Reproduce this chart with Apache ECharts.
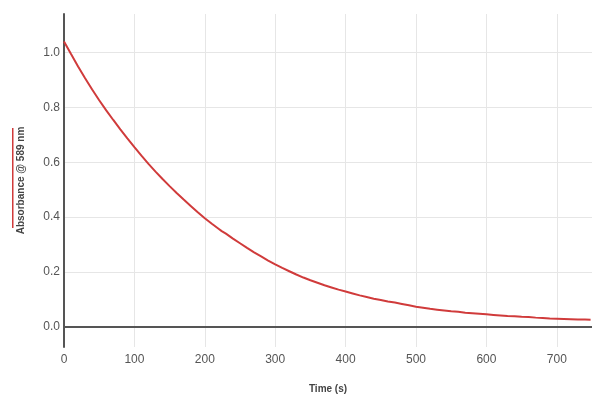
<!DOCTYPE html>
<html>
<head>
<meta charset="utf-8">
<script src="https://cdn.jsdelivr.net/npm/echarts@6/dist/echarts.min.js"></script>
<style>
  html, body { margin: 0; padding: 0; background: #fff; }
  #chart { width: 600px; height: 400px; }
</style>
</head>
<body>
<div id="chart"></div>
<script>
  // time (s) and absorbance
  var times = [
    0, 10, 20, 30, 40, 50, 60, 70, 80, 90,
    100, 110, 120, 130, 140, 150, 160, 170, 180, 190,
    200, 210, 220, 224, 226, 230, 240, 250, 260, 270, 280, 290,
    300, 310, 320, 330, 340, 350, 360, 370, 380, 390,
    400, 410, 420, 430, 440, 450, 460, 465, 467, 470, 480, 490,
    500, 510, 520, 530, 540, 550, 560, 570, 580, 590,
    600, 610, 620, 630, 640, 650, 660, 670, 680, 690,
    700, 710, 720, 730, 740, 748
  ];
  var absorbance = [
    1.040, 0.994, 0.949, 0.906, 0.865, 0.826, 0.789, 0.754, 0.720, 0.687,
    0.655, 0.624, 0.594, 0.566, 0.539, 0.513, 0.488, 0.464, 0.441, 0.418,
    0.396, 0.376, 0.357, 0.349, 0.351, 0.340, 0.322, 0.305, 0.288, 0.272, 0.257, 0.242,
    0.228, 0.215, 0.203, 0.191, 0.180, 0.170, 0.161, 0.152, 0.144, 0.136,
    0.129, 0.122, 0.115, 0.109, 0.103, 0.098, 0.093, 0.091, 0.096, 0.089, 0.084, 0.079,
    0.074, 0.070, 0.066, 0.063, 0.060, 0.057, 0.055, 0.052, 0.050, 0.048,
    0.046, 0.044, 0.042, 0.040, 0.039, 0.037, 0.036, 0.034, 0.033, 0.031,
    0.030, 0.029, 0.028, 0.027, 0.027, 0.026
  ];
  var xTicks = [0, 100, 200, 300, 400, 500, 600, 700];

  var points = times.map(function (t, i) { return [t, absorbance[i]]; });

  var chart = echarts.init(document.getElementById('chart'));

  chart.setOption({
    animation: false,
    grid: { left: 64, right: 8, top: 14, bottom: 53, containLabel: false },
    xAxis: {
      type: 'value',
      min: 0,
      max: 750,
      interval: 100,
      name: 'Time (s)',
      nameLocation: 'middle',
      nameGap: 37,
      nameTextStyle: { fontFamily: 'Liberation Sans', fontSize: 10, fontWeight: 'bold', color: '#444' },
      axisLine: { show: false, onZero: false },
      axisTick: { show: false },
      axisLabel: {
        margin: 7, showMaxLabel: false,
        fontFamily: 'Liberation Sans', fontSize: 12, color: '#555',
        formatter: function (v) { return xTicks.indexOf(v) >= 0 ? String(v) : ''; }
      },
      splitLine: { show: true, showMaxLine: false, lineStyle: { color: '#e6e6e6', width: 1 } }
    },
    yAxis: {
      type: 'value',
      min: -0.073,
      max: 1.14,
      splitNumber: 6,
      name: 'Absorbance @ 589 nm',
      nameLocation: 'middle',
      nameGap: 38,
      nameTextStyle: { fontFamily: 'Liberation Sans', fontSize: 10, fontWeight: 'bold', color: '#444' },
      axisLine: { show: true, onZero: false, lineStyle: { color: '#555', width: 2 } },
      axisTick: { show: false },
      axisLabel: {
        margin: 4, showMinLabel: false, showMaxLabel: false,
        fontFamily: 'Liberation Sans', fontSize: 12, color: '#555',
        formatter: function (v) { return v.toFixed(1); }
      },
      splitLine: { show: true, showMinLine: false, showMaxLine: false, lineStyle: { color: '#e6e6e6', width: 1 } }
    },
    graphic: [{
      type: 'rect',
      shape: { x: 12, y: 128, width: 1.5, height: 100 },
      style: { fill: '#d03b3b' }
    }],
    series: [{
      type: 'line',
      data: points,
      showSymbol: false,
      smooth: false,
      lineStyle: { color: '#d03b3b', width: 2 },
      itemStyle: { color: '#d03b3b' },
      markLine: {
        silent: true,
        symbol: 'none',
        label: { show: false },
        lineStyle: { color: '#555', width: 2, type: 'solid' },
        data: [{ yAxis: 0 }]
      },
      z: 3
    }]
  });
</script>
</body>
</html>
